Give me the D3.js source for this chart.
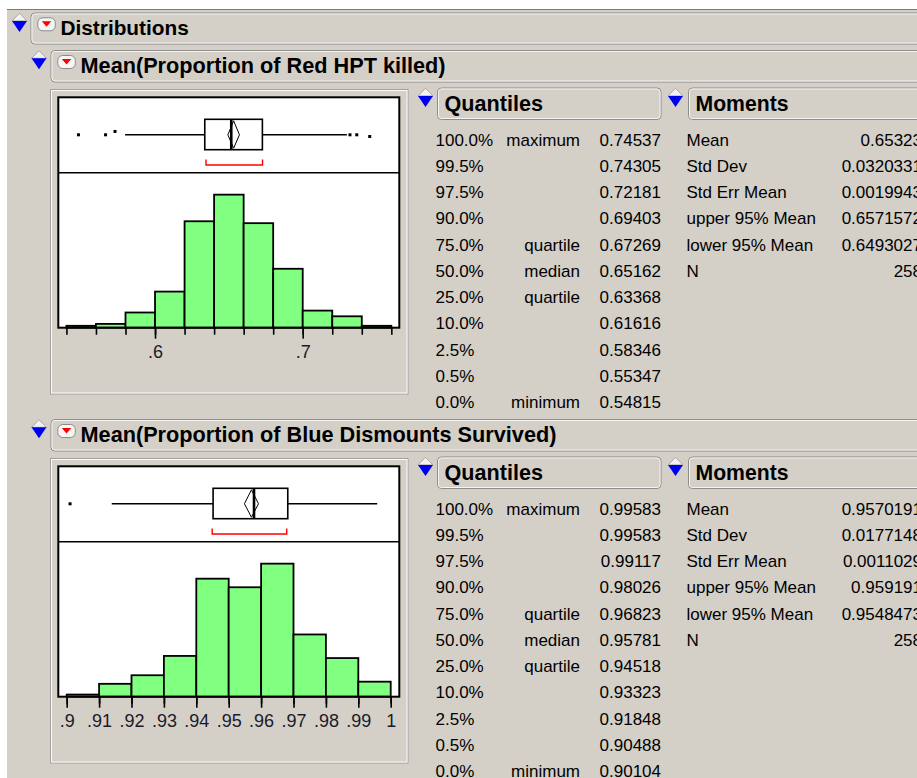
<!DOCTYPE html>
<html>
<head>
<meta charset="utf-8">
<script src="https://cdn.jsdelivr.net/npm/d3@7"></script>
<style>
  body { margin: 0; background: #fff; }
  svg { display: block; font-family: "Liberation Sans", Arial, sans-serif; }
</style>
</head>
<body>
<script>
// quantile / moment row labels (shared by both reports)
const quantPcts = ["100.0%", "99.5%", "97.5%", "90.0%", "75.0%", "50.0%", "25.0%", "10.0%", "2.5%", "0.5%", "0.0%"];
const quantNames = ["maximum", "", "", "", "quartile", "median", "quartile", "", "", "", "minimum"];
const momentNames = ["Mean", "Std Dev", "Std Err Mean", "upper 95% Mean", "lower 95% Mean", "N"];

// Red HPT killed
const redTitle = "Mean(Proportion of Red HPT killed)";
const redBinStarts = [0.54, 0.56, 0.58, 0.60, 0.62, 0.64, 0.66, 0.68, 0.70, 0.72, 0.74];
const redBinWidth = 0.02;
const redCounts = [1, 2, 8, 19, 56, 70, 55, 31, 9, 6, 1];
const redQuantiles = ["0.74537", "0.74305", "0.72181", "0.69403", "0.67269", "0.65162", "0.63368", "0.61616", "0.58346", "0.55347", "0.54815"];
const redMoments = ["0.65323", "0.0320331", "0.0019943", "0.6571572", "0.6493027", "258"];
const redBox = [0.63368, 0.65162, 0.67269]; // q1, median, q3
const redWhiskers = [0.5797, 0.7299];
const redOutliers = [0.54815, 0.5665, 0.5729, 0.7320, 0.7366, 0.74537];
const redJitter = [0, 0, -0.22, 0, 0, 0.11];
const redMeanCI = [0.6493027, 0.65323, 0.6571572];
const redShortestHalf = [0.6345, 0.6728];
const redDomain = [0.5345, 0.7654];
const redTicks = [0.54, 0.56, 0.58, 0.60, 0.62, 0.64, 0.66, 0.68, 0.70, 0.72, 0.74, 0.76];
const redLabelTicks = [0.6, 0.7];

// Blue dismounts survived
const blueTitle = "Mean(Proportion of Blue Dismounts Survived)";
const blueBinStarts = [0.90, 0.91, 0.92, 0.93, 0.94, 0.95, 0.96, 0.97, 0.98, 0.99];
const blueBinWidth = 0.01;
const blueCounts = [1, 6, 10, 19, 55, 51, 62, 29, 18, 7];
const blueQuantiles = ["0.99583", "0.99583", "0.99117", "0.98026", "0.96823", "0.95781", "0.94518", "0.93323", "0.91848", "0.90488", "0.90104"];
const blueMoments = ["0.9570191", "0.0177148", "0.0011029", "0.959191", "0.9548473", "258"];
const blueBox = [0.94518, 0.95781, 0.96823];
const blueWhiskers = [0.9139, 0.99583];
const blueOutliers = [0.90104];
const blueJitter = [0];
const blueMeanCI = [0.9548473, 0.9570191, 0.959191];
const blueShortestHalf = [0.9449, 0.9679];
const blueDomain = [0.89741, 1.00265];
const blueTicks = [0.90, 0.91, 0.92, 0.93, 0.94, 0.95, 0.96, 0.97, 0.98, 0.99, 1.00];
const blueLabelTicks = blueTicks;

const sections = [
  { title: redTitle, bins: redBinStarts, bw: redBinWidth, counts: redCounts, quant: redQuantiles,
    moments: redMoments, box: redBox, whisk: redWhiskers, outl: redOutliers, jitter: redJitter,
    ci: redMeanCI, half: redShortestHalf, domain: redDomain, ticks: redTicks, labTicks: redLabelTicks },
  { title: blueTitle, bins: blueBinStarts, bw: blueBinWidth, counts: blueCounts, quant: blueQuantiles,
    moments: blueMoments, box: blueBox, whisk: blueWhiskers, outl: blueOutliers, jitter: blueJitter,
    ci: blueMeanCI, half: blueShortestHalf, domain: blueDomain, ticks: blueTicks, labTicks: blueLabelTicks },
];

const W = 917, H = 778;
const BG = "#d4d0c8";

const svg = d3.select("body").append("svg").attr("width", W).attr("height", H);

svg.append("rect").attr("x", 7).attr("y", 9).attr("width", W).attr("height", H).attr("fill", BG);
svg.append("line").attr("x1", 7).attr("x2", W).attr("y1", 9.5).attr("y2", 9.5).attr("stroke", "#7a7a7a");

// little blue disclosure diamond
disclosure = (g, x0, y0) => {
  g.append("path")
    .attr("d", `M${x0},${y0 + 7.6}L${x0 + 7.5},${y0}L${x0 + 15},${y0 + 7.6}Z`)
    .attr("fill", "#f2f2f2").attr("stroke", "#9a9a9a").attr("stroke-width", 0.8);
  g.append("path")
    .attr("d", `M${x0},${y0 + 7.6}L${x0 + 15},${y0 + 7.6}L${x0 + 7.5},${y0 + 18.6}Z`)
    .attr("fill", "#0000f0");
};

// red popup-menu button
menuButton = (g, x0, y0) => {
  g.append("rect").attr("x", x0 + 0.5).attr("y", y0 + 0.5).attr("width", 17.5).attr("height", 13)
    .attr("rx", 5).attr("fill", "#f7f7f7").attr("stroke", "#8a8a8a");
  g.append("path")
    .attr("d", `M${x0 + 4.5},${y0 + 4}L${x0 + 14},${y0 + 4}L${x0 + 9.25},${y0 + 9.5}Z`)
    .attr("fill", "#ff0000");
};

headerBox = (g, x, y, w, h, label, tx, ty, fs) => {
  g.append("rect").attr("x", x + 0.5).attr("y", y + 0.5).attr("width", w).attr("height", h)
    .attr("rx", 4).attr("fill", BG).attr("stroke", "#8c8c8c");
  g.append("rect").attr("x", x + 1.5).attr("y", y + 1.5).attr("width", w - 2).attr("height", h - 2)
    .attr("rx", 3).attr("fill", "none").attr("stroke", "#f4f4f4");
  g.append("text").attr("x", tx).attr("y", ty)
    .attr("font-size", fs).attr("font-weight", "bold").attr("fill", "#000").text(label);
};

// top level outline
headerBox(svg, 30.5, 12.5, 900, 31, "Distributions", 60.5, 35, 20.8);
disclosure(svg, 12, 13.3);
menuButton(svg, 37.3, 17.3);

const fmtTick = (v) => (v === 1 ? "1" : d3.format(".2~f")(v).replace(/^0/, ""));

drawSection = (s, dy) => {
  const g = svg.append("g").attr("transform", `translate(0,${dy})`);

  headerBox(g, 50.5, 50, 900, 31.5, s.title, 80.5, 72.7, 21.7);
  disclosure(g, 31.5, 50.7);
  menuButton(g, 57.3, 55);

  // sunken frame around the graph
  g.append("rect").attr("x", 50.5).attr("y", 89.5).attr("width", 357.5).attr("height", 304.5)
    .attr("fill", "none").attr("stroke", "#a0a0a0");
  g.append("rect").attr("x", 51.5).attr("y", 90.5).attr("width", 355.5).attr("height", 302.5)
    .attr("fill", "none").attr("stroke", "#fbfbfb");

  const left = 58.3, right = 399.3, top = 97.3, mid = 172.7, bottom = 327.7;

  g.append("rect").attr("x", left).attr("y", top).attr("width", right - left).attr("height", bottom - top)
    .attr("fill", "#fff");

  const x = d3.scaleLinear().domain(s.domain).range([left, right]);
  const y = d3.scaleLinear().domain([0, d3.max(s.counts) * 1.165]).range([bottom, mid]);

  // histogram
  g.append("g").selectAll("rect").data(s.bins).join("rect")
    .attr("x", (d) => x(d))
    .attr("width", (d) => x(d + s.bw) - x(d))
    .attr("y", (d, i) => y(s.counts[i]))
    .attr("height", (d, i) => bottom - y(s.counts[i]))
    .attr("fill", "#80ff80").attr("stroke", "#000").attr("stroke-width", 1.8);

  // outlier box plot
  const boxTop = 119.3, boxBot = 149.7, cy = (boxTop + boxBot) / 2 + 0.3;
  const bp = g.append("g").attr("stroke", "#000");
  bp.append("line").attr("x1", x(s.whisk[0])).attr("x2", x(s.box[0])).attr("y1", cy).attr("y2", cy).attr("stroke-width", 1.6);
  bp.append("line").attr("x1", x(s.box[2])).attr("x2", x(s.whisk[1])).attr("y1", cy).attr("y2", cy).attr("stroke-width", 1.6);
  bp.append("rect").attr("x", x(s.box[0])).attr("y", boxTop)
    .attr("width", x(s.box[2]) - x(s.box[0])).attr("height", boxBot - boxTop)
    .attr("fill", "#fff").attr("stroke-width", 1.6);
  // mean diamond
  bp.append("path")
    .attr("d", `M${x(s.ci[1])},${boxTop + 1.5}L${x(s.ci[2])},${cy}L${x(s.ci[1])},${boxBot - 1.5}L${x(s.ci[0])},${cy}Z`)
    .attr("fill", "none").attr("stroke-width", 1);
  bp.append("line").attr("x1", x(s.box[1])).attr("x2", x(s.box[1])).attr("y1", boxTop).attr("y2", boxBot)
    .attr("stroke-width", 2.6);
  g.append("g").selectAll("rect").data(s.outl).join("rect")
    .attr("x", (d) => x(d) - 1.5)
    .attr("y", (d, i) => cy - 1.5 + s.jitter[i] * (boxBot - boxTop) / 2)
    .attr("width", 3).attr("height", 3).attr("fill", "#000");

  // shortest half bracket
  const bx0 = x(s.half[0]), bx1 = x(s.half[1]);
  g.append("path")
    .attr("d", `M${bx0},159.5V165H${bx1}V159.5`)
    .attr("fill", "none").attr("stroke", "#ff0000").attr("stroke-width", 1.4);

  // frame and divider
  g.append("rect").attr("x", left).attr("y", top).attr("width", right - left).attr("height", bottom - top)
    .attr("fill", "none").attr("stroke", "#000").attr("stroke-width", 2);
  g.append("line").attr("x1", left).attr("x2", right).attr("y1", mid).attr("y2", mid)
    .attr("stroke", "#000").attr("stroke-width", 1.5);

  // axis: short minor ticks, long labelled ticks
  g.append("g").attr("transform", `translate(0,${bottom})`)
    .call(d3.axisBottom(x).tickValues(s.ticks).tickSize(7).tickFormat(""))
    .call((a) => a.select(".domain").remove())
    .call((a) => a.selectAll(".tick line").attr("stroke", "#000").attr("stroke-width", 1.6));
  g.append("g").attr("transform", `translate(0,${bottom})`)
    .call(d3.axisBottom(x).tickValues(s.labTicks).tickSize(11).tickFormat(fmtTick))
    .call((a) => a.select(".domain").remove())
    .call((a) => a.selectAll(".tick line").attr("stroke", "#000").attr("stroke-width", 1.6))
    .call((a) => a.selectAll(".tick text").attr("y", 30).attr("dy", 0)
      .attr("font-size", 18).attr("font-family", "Liberation Sans, Arial, sans-serif").attr("fill", "#1a1a2a"));

  // Quantiles table
  headerBox(g, 437, 87.5, 223.5, 31.5, "Quantiles", 444.5, 111, 21.6);
  disclosure(g, 418, 88.3);
  const rowY = (i) => 145.6 + i * 26.24;
  const qt = g.append("g").attr("font-size", 17).attr("fill", "#000");
  qt.selectAll("text.pct").data(quantPcts).join("text").attr("class", "pct")
    .attr("x", 435.5).attr("y", (d, i) => rowY(i)).text((d) => d);
  qt.selectAll("text.nm").data(quantNames).join("text").attr("class", "nm")
    .attr("x", 580).attr("y", (d, i) => rowY(i)).attr("text-anchor", "end").text((d) => d);
  qt.selectAll("text.val").data(s.quant).join("text").attr("class", "val")
    .attr("x", 661).attr("y", (d, i) => rowY(i)).attr("text-anchor", "end").text((d) => d);

  // Moments table (values run past the right edge, as in the report window)
  headerBox(g, 688, 87.5, 300, 31.5, "Moments", 695.5, 111, 21.2);
  disclosure(g, 668, 88.3);
  const mt = g.append("g").attr("font-size", 17).attr("fill", "#000");
  mt.selectAll("text.nm").data(momentNames).join("text").attr("class", "nm")
    .attr("x", 686.5).attr("y", (d, i) => rowY(i)).text((d) => d);
  mt.selectAll("text.val").data(s.moments).join("text").attr("class", "val")
    .attr("x", 922).attr("y", (d, i) => rowY(i)).attr("text-anchor", "end").text((d) => d);
};

sections.forEach((s, i) => drawSection(s, i * 369));
</script>
</body>
</html>
